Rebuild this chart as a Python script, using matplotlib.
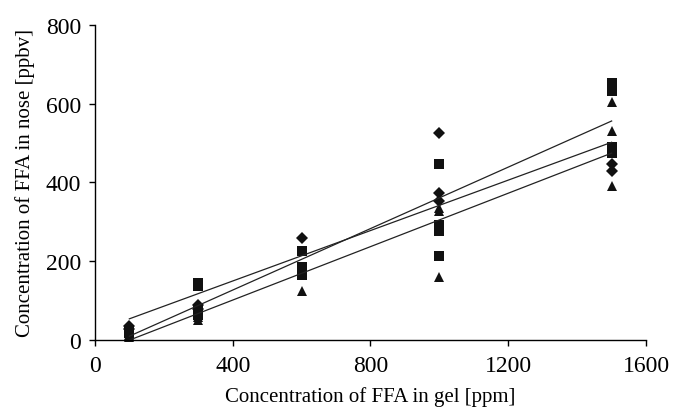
import numpy as np
import matplotlib
matplotlib.use("Agg")
import matplotlib.pyplot as plt

plt.rcParams['font.family'] = ['Liberation Serif', 'DejaVu Serif']

dia_x = [100, 100, 300, 300, 600, 1000, 1000, 1000, 1500, 1500]
dia_y = [35, 28, 90, 80, 260, 526, 373, 352, 447, 429]

sq_x = [100, 100, 300, 300, 300, 300, 600, 600, 600, 1000, 1000, 1000, 1000, 1500, 1500, 1500, 1500]
sq_y = [25, 18, 146, 138, 75, 65, 226, 185, 165, 446, 293, 278, 214, 652, 633, 490, 475]

tri_x = [100, 100, 300, 300, 600, 1000, 1000, 1000, 1500, 1500, 1500]
tri_y = [14, 8, 58, 50, 125, 335, 328, 160, 604, 530, 391]

# regression lines as drawn (slope, intercept), from x=100 to x=1500
fit_slope = [0.390, 0.320, 0.339]
fit_icpt = [-29, 22, -34]
fit_x = [100, 1500]

fig = plt.figure(figsize=(6.73, 4.10), dpi=100)
ax = fig.add_axes([0.141, 0.168, 0.819, 0.769])

ax.plot(dia_x, dia_y, 'D', color='#111111', ms=6, mew=0, clip_on=False)
ax.plot(sq_x, sq_y, 's', color='#111111', ms=6.5, mew=0, clip_on=False)
ax.plot(tri_x, tri_y, '^', color='#111111', ms=7.5, mew=0, clip_on=False)

for k, b in zip(fit_slope, fit_icpt):
    xs = np.array(fit_x)
    ax.plot(xs, k * xs + b, '-', color='#222222', lw=0.9)

ax.set_xlim(0, 1600)
ax.set_ylim(0, 800)
ax.set_xticks([0, 400, 800, 1200, 1600])
ax.set_yticks([0, 200, 400, 600, 800])
ax.spines['top'].set_visible(False)
ax.spines['right'].set_visible(False)
ax.spines['left'].set_linewidth(1.0)
ax.spines['bottom'].set_linewidth(1.0)
ax.tick_params(direction='out', length=4, width=1, labelsize=17)
ax.tick_params(axis='x', pad=7)
ax.tick_params(axis='y', pad=6)

ax.set_xlabel('Concentration of FFA in gel [ppm]', fontsize=15, labelpad=7)
ax.set_ylabel('Concentration of FFA in nose [ppbv]', fontsize=15, labelpad=8)

fig.savefig('out.png', dpi=100)
